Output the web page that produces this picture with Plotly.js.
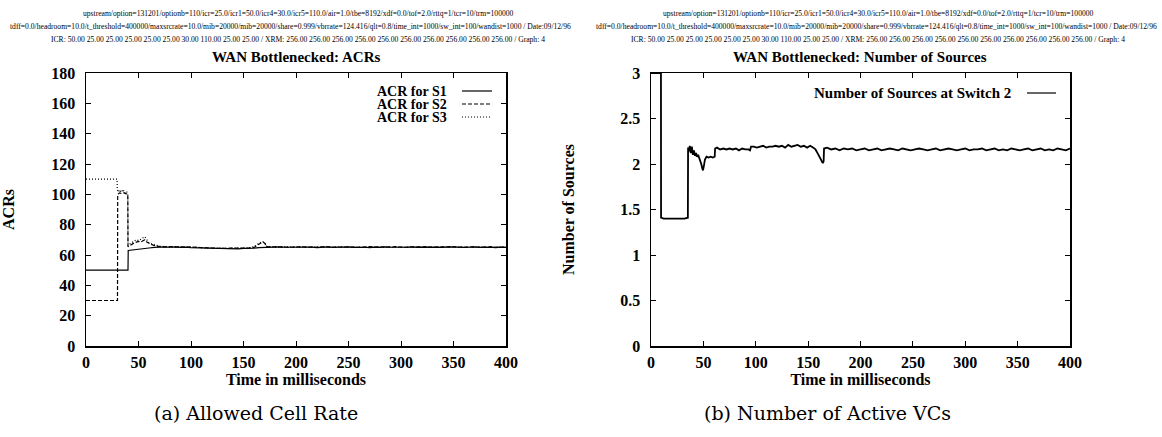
<!DOCTYPE html>
<html>
<head>
<meta charset="utf-8">
<script src="https://cdn.plot.ly/plotly-3.0.1.min.js"></script>
<style>html,body{margin:0;padding:0;background:#fff;}#chart{width:1162px;height:437px;}</style>
</head>
<body>
<div id="chart"></div>
<script>
// ---------- Data: (a) Allowed Cell Rate ----------
const s1X = [0, 40, 40.2, 45, 50, 55, 60, 65,
  70, 75, 80, 85, 90, 95, 100, 105, 110, 115, 120, 125, 130, 135, 140, 145, 150, 155, 160, 165, 170, 175, 180, 185, 190, 195, 200,
  205, 210, 215, 220, 225, 230, 235, 240, 245, 250, 255, 260, 265, 270, 275, 280, 285, 290, 295, 300,
  305, 310, 315, 320, 325, 330, 335, 340, 345, 350, 355, 360, 365, 370, 375, 380, 385, 390, 395, 400];
const s1Y = [50, 50, 63, 63.5, 64, 64.3, 64.6, 65,
  65.2, 65.4, 65.1, 65.3, 65.0, 65.2, 64.9, 64.8, 64.5, 64.3, 64.2, 64.3, 64.1, 64.2, 64.3, 64.1, 64.4, 64.2, 64.5, 64.8, 65.0, 65.2, 65.0, 65.3, 65.1, 65.2, 65.0,
  65.3, 65.1, 65.2, 64.9, 65.1, 65.3, 65.0, 65.2, 65.1, 65.3, 65.0, 65.2, 65.1, 64.9, 65.2, 65.0, 65.3, 65.1, 65.0, 65.2,
  65.1, 65.3, 65.0, 65.2, 65.1, 64.9, 65.2, 65.0, 65.3, 65.1, 65.2, 65.0, 65.1, 65.3, 65.0, 65.2, 65.1, 64.9, 65.2, 65.0];

const s2X = [0, 30, 30.2, 32, 34, 36, 38, 39.8, 40, 42, 44, 46, 48, 50, 52, 54, 56, 58, 60, 62, 64, 66, 68,
  70, 75, 80, 85, 90, 95, 100, 105, 110, 115, 120, 125, 130, 135, 140, 145, 150, 155, 160, 163, 166, 168, 170, 172,
  175, 180, 185, 190, 195, 200, 205, 210, 215, 220, 225, 230, 235, 240, 245, 250, 255, 260, 265, 270, 275, 280, 285, 290, 295, 300,
  305, 310, 315, 320, 325, 330, 335, 340, 345, 350, 355, 360, 365, 370, 375, 380, 385, 390, 395, 400];
const s2Y = [30, 30, 100, 101, 100.5, 101, 100.5, 100, 65.5, 66.5, 67, 68, 68.5, 69, 68.5, 69.5, 70, 68.5, 67.5, 67, 66.5, 66, 65.5,
  65.5, 65.3, 65.6, 65.2, 65.4, 65.1, 65.3, 65.0, 64.8, 64.6, 64.4, 64.6, 64.3, 64.5, 64.4, 64.6, 64.3, 64.5, 65.0, 66.5, 67.8, 68.6, 68.0, 65.6,
  65.4, 65.2, 65.5, 65.3, 65.1, 65.4, 65.2, 65.5, 65.3, 65.1, 65.4, 65.2, 65.5, 65.1, 65.3, 65.4, 65.2, 65.0, 65.3, 65.5, 65.2, 65.4, 65.1, 65.3, 65.5, 65.2,
  65.0, 65.4, 65.2, 65.3, 65.5, 65.1, 65.3, 65.4, 65.2, 65.5, 65.1, 65.3, 65.2, 65.4, 65.1, 65.3, 65.5, 65.2, 65.0, 65.3];

const s3X = [0, 29.6, 29.8, 31, 32, 33, 34, 35, 36, 37, 38, 39, 39.8, 40, 42, 44, 46, 48, 50, 52, 54, 56, 58, 60, 62, 64, 66, 68,
  70, 75, 80, 85, 90, 95, 100, 105, 110, 115, 120, 125, 130, 135, 140, 145, 150, 155, 160, 163, 166, 168, 170, 172,
  175, 180, 185, 190, 195, 200, 205, 210, 215, 220, 225, 230, 235, 240, 245, 250, 255, 260, 265, 270, 275, 280, 285, 290, 295, 300,
  305, 310, 315, 320, 325, 330, 335, 340, 345, 350, 355, 360, 365, 370, 375, 380, 385, 390, 395, 400];
const s3Y = [110, 110, 103, 101.5, 103, 102, 103, 101.5, 102.5, 101, 102, 101.5, 100, 66, 67.5, 68.5, 69, 70, 69.5, 70.5, 71, 72, 70, 68, 67.5, 67, 66.5, 66,
  65.8, 65.5, 65.2, 65.6, 65.3, 65.5, 65.0, 65.2, 64.7, 64.5, 64.6, 64.3, 64.5, 64.2, 64.6, 64.4, 64.5, 64.7, 65.5, 67.0, 68.2, 69.0, 68.3, 65.8,
  65.2, 65.4, 65.1, 65.5, 65.3, 65.1, 65.4, 65.2, 65.0, 65.4, 65.3, 65.1, 65.2, 65.5, 65.0, 65.2, 65.4, 65.3, 65.1, 65.2, 65.4, 65.1, 65.3, 65.0, 65.2, 65.4,
  65.3, 65.1, 65.4, 65.0, 65.2, 65.4, 65.1, 65.3, 65.0, 65.2, 65.4, 65.1, 65.3, 65.0, 65.4, 65.2, 65.1, 65.3, 65.4, 65.1];

// ---------- Data: (b) Number of Active VCs ----------
const nX = [0, 9.5, 9.6, 12, 16, 20, 24, 28, 32, 35.2, 35.4, 36, 37, 38, 39, 40, 41, 42, 43, 44, 45, 46, 47, 48, 49, 49.6, 50.5, 51.5, 53, 55, 57, 59, 60.8, 61.2,
  63, 66, 69, 72, 75, 78, 81, 84, 87, 90, 93, 94.5, 95.5, 98, 101, 104, 107, 110, 113, 116, 119, 122, 125, 128, 131, 134, 137, 140, 143, 146, 149, 152,
  155, 157, 159, 161, 163, 164, 164.8, 165.2, 168, 172, 176, 180, 184, 188, 192, 196, 200, 204, 208, 212, 216, 220, 224, 228, 232, 236, 240,
  244, 248, 252, 256, 260, 264, 268, 272, 276, 280, 284, 288, 292, 296, 300, 304, 308, 312, 316, 320, 324, 328, 332, 336, 340,
  344, 348, 352, 356, 360, 364, 368, 372, 376, 380, 384, 388, 392, 396, 400];
const nY = [3.0, 3.0, 1.41, 1.40, 1.40, 1.40, 1.40, 1.40, 1.40, 1.41, 2.18, 2.14, 2.20, 2.12, 2.19, 2.10, 2.15, 2.09, 2.12, 2.08, 2.10, 2.07, 2.05, 2.00, 1.95, 1.93, 1.98, 2.05, 2.08, 2.07, 2.08, 2.07, 2.08, 2.17,
  2.18, 2.16, 2.17, 2.16, 2.17, 2.16, 2.17, 2.15, 2.17, 2.16, 2.16, 2.15, 2.19, 2.19, 2.18, 2.19, 2.20, 2.18, 2.19, 2.19, 2.20, 2.19, 2.20, 2.18, 2.21, 2.19, 2.20, 2.21, 2.19, 2.20, 2.18, 2.20,
  2.18, 2.16, 2.12, 2.08, 2.04, 2.01, 2.03, 2.17, 2.18, 2.16, 2.17, 2.15, 2.17, 2.16, 2.17, 2.15, 2.16, 2.17, 2.15, 2.16, 2.17, 2.15, 2.16, 2.17, 2.16, 2.15, 2.17,
  2.16, 2.15, 2.16, 2.17, 2.16, 2.15, 2.16, 2.17, 2.15, 2.16, 2.17, 2.16, 2.15, 2.16, 2.17, 2.15, 2.16, 2.16, 2.17, 2.15, 2.16, 2.17, 2.15, 2.16, 2.15,
  2.17, 2.16, 2.15, 2.16, 2.17, 2.15, 2.16, 2.17, 2.15, 2.16, 2.15, 2.17, 2.16, 2.15, 2.17];

// ---------- Text ----------
const headerLines = [
  "upstream/option=131201/optionb=110/icr=25.0/icr1=50.0/icr4=30.0/icr5=110.0/air=1.0/tbe=8192/xdf=0.0/tof=2.0/rttq=1/tcr=10/trm=100000",
  "tdff=0.0/headroom=10.0/t_threshold=400000/maxsrcrate=10.0/mib=20000/mib=20000/share=0.999/vbrrate=124.416/qlt=0.8/time_int=1000/sw_int=100/wandist=1000 / Date:09/12/96",
  "ICR: 50.00 25.00 25.00 25.00 25.00 25.00 30.00 110.00 25.00 25.00 / XRM: 256.00 256.00 256.00 256.00 256.00 256.00 256.00 256.00 256.00 256.00 / Graph: 4"
];
const titles = ["WAN Bottlenecked: ACRs", "WAN Bottlenecked: Number of Sources"];
const captions = ["(a) Allowed Cell Rate", "(b) Number of Active VCs"];
const acrNames = ["ACR for S1", "ACR for S2", "ACR for S3"];
const srcName = "Number of Sources at Switch 2";

// ---------- Layout helpers ----------
const W = 1162, H = 437;
const px = v => v / W;
const py = v => 1 - v / H;
const SERIF = "Liberation Serif, Times New Roman, serif";
const boldFont = (s) => ({family: SERIF, size: s, color: "#000", weight: "bold"});

const traces = [
  {x: s1X, y: s1Y, xaxis: "x", yaxis: "y", mode: "lines", line: {color: "#000", width: 1.2}, name: acrNames[0], showlegend: false},
  {x: s2X, y: s2Y, xaxis: "x", yaxis: "y", mode: "lines", line: {color: "#000", width: 1.2, dash: "4px,2px"}, name: acrNames[1], showlegend: false},
  {x: s3X, y: s3Y, xaxis: "x", yaxis: "y", mode: "lines", line: {color: "#000", width: 1.2, dash: "1px,2px"}, name: acrNames[2], showlegend: false},
  {x: nX, y: nY, xaxis: "x2", yaxis: "y2", mode: "lines", line: {color: "#000", width: 1.8}, name: srcName, showlegend: false}
];

const axBase = {
  showline: true, linecolor: "#000", linewidth: 1.5, mirror: "ticks",
  ticks: "inside", ticklen: 5, tickwidth: 1, tickcolor: "#000",
  showgrid: false, zeroline: false, automargin: false,
  tickfont: boldFont(16)
};
const ydomain = [py(346), py(73)];

const annotations = [];
// header lines: [left block, right block]; line 2 is wider than its half and is anchored at the edges
const hdrFont = {family: SERIF, size: 7.6, color: "#000"};
[{cx: 298, l2x: 8, l2anchor: "left"}, {cx: 878, l2x: 1159, l2anchor: "right"}].forEach(b => {
  headerLines.forEach((t, i) => {
    const isL2 = i === 1;
    annotations.push({xref: "paper", yref: "paper", x: px(isL2 ? b.l2x : b.cx), y: py(13 + 13 * i), text: t, showarrow: false,
      xanchor: isL2 ? b.l2anchor : "center", yanchor: "middle", font: hdrFont});
  });
});
// plot titles
annotations.push({xref: "paper", yref: "paper", x: px(296), y: py(57), text: titles[0], showarrow: false, xanchor: "center", yanchor: "middle", font: boldFont(15)});
annotations.push({xref: "paper", yref: "paper", x: px(860), y: py(57), text: titles[1], showarrow: false, xanchor: "center", yanchor: "middle", font: boldFont(15)});
// captions
const capFont = {family: "DejaVu Serif, serif", size: 19, color: "#000"};
annotations.push({xref: "paper", yref: "paper", x: px(256), y: py(413), text: captions[0], showarrow: false, xanchor: "center", yanchor: "middle", font: capFont});
annotations.push({xref: "paper", yref: "paper", x: px(827), y: py(413), text: captions[1], showarrow: false, xanchor: "center", yanchor: "middle", font: capFont});
// legend (left)
const legY = [91, 104, 117];
const legDash = ["solid", "4px,2px", "1px,2px"];
const shapes = [];
acrNames.forEach((n, i) => {
  annotations.push({xref: "paper", yref: "paper", x: px(448), y: py(legY[i]), text: n, showarrow: false, xanchor: "right", yanchor: "middle", borderpad: 0, font: boldFont(14)});
  shapes.push({type: "line", xref: "paper", yref: "paper", x0: px(462), x1: px(492), y0: py(legY[i]), y1: py(legY[i]), line: {color: "#000", width: 1.2, dash: legDash[i]}});
});
// legend (right)
annotations.push({xref: "paper", yref: "paper", x: px(1013), y: py(93), text: srcName, showarrow: false, xanchor: "right", yanchor: "middle", font: boldFont(15)});
shapes.push({type: "line", xref: "paper", yref: "paper", x0: px(1027), x1: px(1056), y0: py(93), y1: py(93), line: {color: "#000", width: 1.2}});

const layout = {
  width: W, height: H,
  margin: {l: 0, r: 0, t: 0, b: 0, pad: 0},
  paper_bgcolor: "#fff", plot_bgcolor: "#fff",
  showlegend: false,
  xaxis: Object.assign({}, axBase, {domain: [px(86), px(506)], range: [0, 400], dtick: 50, tick0: 0, anchor: "y",
    ticklabelstandoff: 1,
    title: {text: "Time in milliseconds", font: boldFont(16), standoff: 0}}),
  yaxis: Object.assign({}, axBase, {domain: ydomain, range: [0, 180], dtick: 20, tick0: 0, anchor: "x",
    ticklabelstandoff: 6,
    title: {text: "ACRs", font: boldFont(16), standoff: 34}}),
  xaxis2: Object.assign({}, axBase, {domain: [px(651), px(1070)], range: [0, 400], dtick: 50, tick0: 0, anchor: "y2",
    ticklabelstandoff: 1,
    title: {text: "Time in milliseconds", font: boldFont(16), standoff: 0}}),
  yaxis2: Object.assign({}, axBase, {domain: ydomain, range: [0, 3], dtick: 0.5, tick0: 0, anchor: "x2",
    ticklabelstandoff: 6,
    title: {text: "Number of Sources", font: boldFont(16), standoff: 41}}),
  annotations: annotations,
  shapes: shapes
};

Plotly.newPlot("chart", traces, layout, {staticPlot: true, displayModeBar: false});
</script>
</body>
</html>
